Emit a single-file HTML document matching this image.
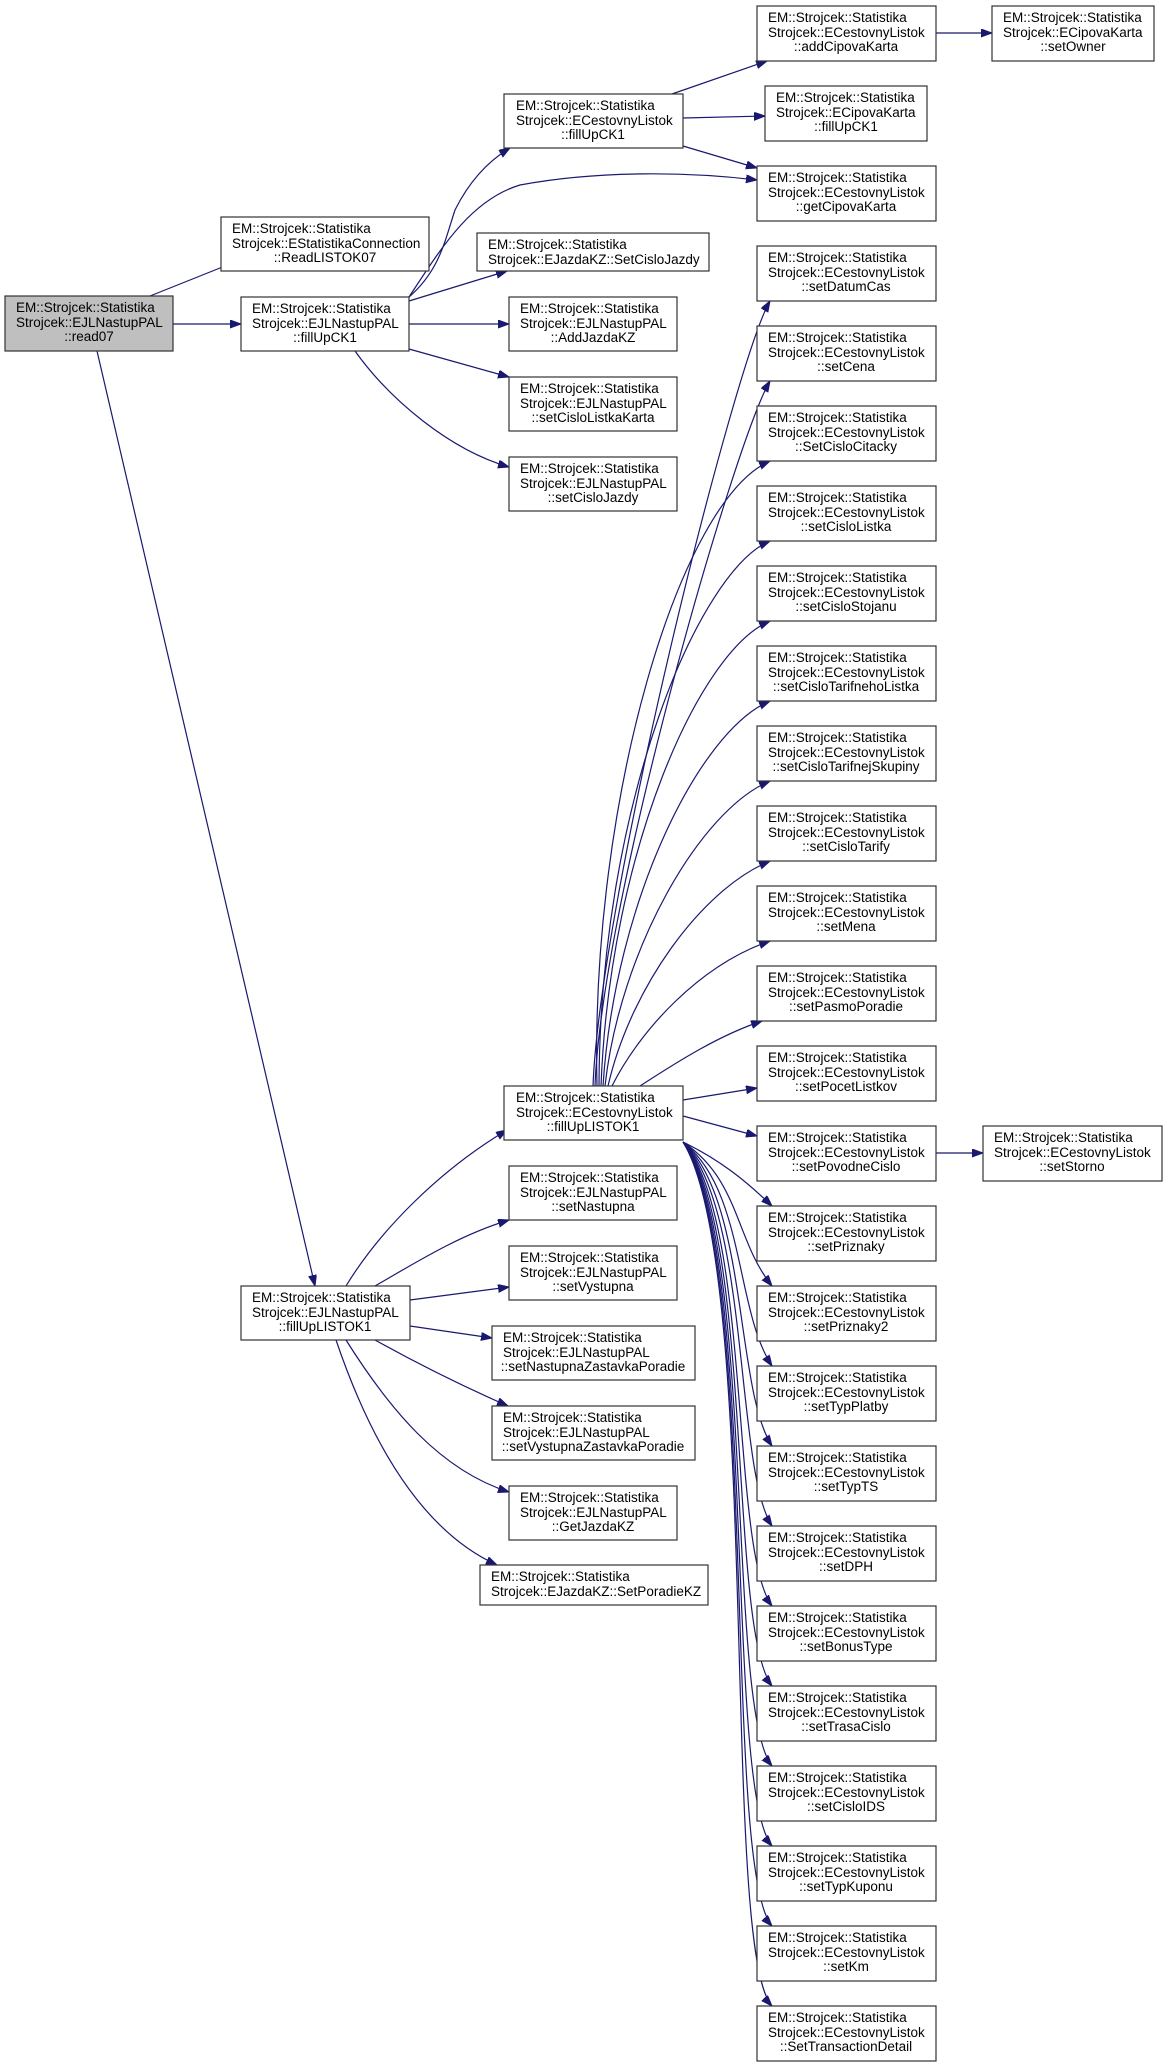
<!DOCTYPE html>
<html><head><meta charset="utf-8"><style>
html,body{margin:0;padding:0;background:#fff;}
svg{display:block;}
text{font-family:"Liberation Sans",sans-serif;font-size:13.5px;fill:#000;}
rect{fill:#fff;stroke:#333;stroke-width:1.2;}
.e{fill:none;stroke:#191970;stroke-width:1.2;}
</style></head><body>
<svg width="1168" height="2067" viewBox="0 0 1168 2067" xmlns="http://www.w3.org/2000/svg">
<defs><marker id="a" markerUnits="userSpaceOnUse" markerWidth="12" markerHeight="10" refX="11" refY="4" orient="auto"><path d="M0,0 L11,4 L0,8 z" fill="#191970" stroke="#191970"/></marker></defs>

<g marker-end="url(#a)">
<path class="e" d="M150,296 L235,262"/>
<path class="e" d="M173,324 L241,324"/>
<path class="e" d="M97,351 L315,1286"/>
<path class="e" d="M409,297 C440,270 445,240 455,210 C470,180 490,160 510,148"/>
<path class="e" d="M409,297 C440,250 470,200 520,185 C600,170 690,172 757,180"/>
<path class="e" d="M409,301 L507,271"/>
<path class="e" d="M409,324 L509,324"/>
<path class="e" d="M409,349 L509,377"/>
<path class="e" d="M355,351 C390,400 450,450 509,467"/>
<path class="e" d="M672,94 L767,61"/>
<path class="e" d="M683,118 L765,116"/>
<path class="e" d="M683,146 L757,168"/>
<path class="e" d="M936,33 L992,33"/>
<path class="e" d="M827,1153 L983,1153"/>
<path class="e" d="M346,1286 C380,1230 440,1170 507,1130"/>
<path class="e" d="M375,1286 C420,1260 460,1235 509,1220"/>
<path class="e" d="M410,1300 L509,1287"/>
<path class="e" d="M410,1326 L492,1338"/>
<path class="e" d="M375,1340 C420,1365 460,1385 508,1406"/>
<path class="e" d="M346,1340 C390,1410 440,1470 509,1492"/>
<path class="e" d="M336,1340 C370,1440 420,1530 497,1565"/>
<path class="e" d="M593,1086 C600,900 735,360 770,301"/>
<path class="e" d="M595,1086 C602,900 735,440 770,381"/>
<path class="e" d="M597,1086 C590,800 680,500 770,461"/>
<path class="e" d="M599,1086 C600,800 700,570 770,541"/>
<path class="e" d="M601,1086 C610,850 700,650 770,621"/>
<path class="e" d="M603,1086 C615,900 700,730 770,701"/>
<path class="e" d="M605,1086 C620,950 700,810 770,781"/>
<path class="e" d="M608,1086 C630,990 700,890 770,861"/>
<path class="e" d="M612,1086 C640,1030 700,965 770,941"/>
<path class="e" d="M640,1086 C680,1060 720,1035 762,1021"/>
<path class="e" d="M683,1100 L757,1088"/>
<path class="e" d="M683,1116 L757,1136"/>
<path class="e" d="M683,1142 C720,1160 745,1180 772,1206"/>
<path class="e" d="M683,1142 C740,1180 735,1240 772,1286"/>
<path class="e" d="M683,1142 C745,1190 735,1310 772,1366"/>
<path class="e" d="M683,1142 C748,1200 735,1390 772,1446"/>
<path class="e" d="M683,1142 C750,1210 735,1470 772,1526"/>
<path class="e" d="M683,1142 C752,1220 730,1550 772,1606"/>
<path class="e" d="M683,1142 C754,1230 728,1630 772,1686"/>
<path class="e" d="M683,1142 C756,1240 726,1710 772,1766"/>
<path class="e" d="M683,1142 C758,1250 724,1790 772,1846"/>
<path class="e" d="M683,1142 C760,1260 722,1870 772,1926"/>
<path class="e" d="M683,1142 C762,1270 720,1950 772,2006"/>
</g>

<!-- left -->
<rect x="5" y="296" width="168" height="55" style="fill:#bfbfbf"/>
<text x="16" y="312">EM::Strojcek::Statistika</text><text x="16" y="327">Strojcek::EJLNastupPAL</text><text x="89" y="341" text-anchor="middle">::read07</text>

<rect x="221" y="217" width="208" height="54"/>
<text x="232" y="233">EM::Strojcek::Statistika</text><text x="232" y="248">Strojcek::EStatistikaConnection</text><text x="325" y="262" text-anchor="middle">::ReadLISTOK07</text>

<rect x="241" y="297" width="168" height="54"/>
<text x="252" y="313">EM::Strojcek::Statistika</text><text x="252" y="328">Strojcek::EJLNastupPAL</text><text x="325" y="342" text-anchor="middle">::fillUpCK1</text>

<rect x="241" y="1286" width="169" height="54"/>
<text x="252" y="1302">EM::Strojcek::Statistika</text><text x="252" y="1317">Strojcek::EJLNastupPAL</text><text x="325" y="1331" text-anchor="middle">::fillUpLISTOK1</text>

<!-- mid -->
<rect x="504" y="94" width="179" height="54"/>
<text x="516" y="110">EM::Strojcek::Statistika</text><text x="516" y="125">Strojcek::ECestovnyListok</text><text x="593" y="139" text-anchor="middle">::fillUpCK1</text>

<rect x="477" y="233" width="232" height="38"/>
<text x="488" y="249">EM::Strojcek::Statistika</text><text x="488" y="264">Strojcek::EJazdaKZ::SetCisloJazdy</text>

<rect x="509" y="297" width="168" height="54"/>
<text x="520" y="313">EM::Strojcek::Statistika</text><text x="520" y="328">Strojcek::EJLNastupPAL</text><text x="593" y="342" text-anchor="middle">::AddJazdaKZ</text>

<rect x="509" y="377" width="168" height="54"/>
<text x="520" y="393">EM::Strojcek::Statistika</text><text x="520" y="408">Strojcek::EJLNastupPAL</text><text x="593" y="422" text-anchor="middle">::setCisloListkaKarta</text>

<rect x="509" y="457" width="168" height="54"/>
<text x="520" y="473">EM::Strojcek::Statistika</text><text x="520" y="488">Strojcek::EJLNastupPAL</text><text x="593" y="502" text-anchor="middle">::setCisloJazdy</text>

<rect x="504" y="1086" width="179" height="54"/>
<text x="516" y="1102">EM::Strojcek::Statistika</text><text x="516" y="1117">Strojcek::ECestovnyListok</text><text x="593" y="1131" text-anchor="middle">::fillUpLISTOK1</text>

<rect x="509" y="1166" width="168" height="54"/>
<text x="520" y="1182">EM::Strojcek::Statistika</text><text x="520" y="1197">Strojcek::EJLNastupPAL</text><text x="593" y="1211" text-anchor="middle">::setNastupna</text>

<rect x="509" y="1246" width="168" height="54"/>
<text x="520" y="1262">EM::Strojcek::Statistika</text><text x="520" y="1277">Strojcek::EJLNastupPAL</text><text x="593" y="1291" text-anchor="middle">::setVystupna</text>

<rect x="492" y="1326" width="203" height="54"/>
<text x="503" y="1342">EM::Strojcek::Statistika</text><text x="503" y="1357">Strojcek::EJLNastupPAL</text><text x="593" y="1371" text-anchor="middle">::setNastupnaZastavkaPoradie</text>

<rect x="492" y="1406" width="203" height="54"/>
<text x="503" y="1422">EM::Strojcek::Statistika</text><text x="503" y="1437">Strojcek::EJLNastupPAL</text><text x="593" y="1451" text-anchor="middle">::setVystupnaZastavkaPoradie</text>

<rect x="509" y="1486" width="168" height="54"/>
<text x="520" y="1502">EM::Strojcek::Statistika</text><text x="520" y="1517">Strojcek::EJLNastupPAL</text><text x="593" y="1531" text-anchor="middle">::GetJazdaKZ</text>

<rect x="480" y="1565" width="228" height="40"/>
<text x="491" y="1581">EM::Strojcek::Statistika</text><text x="491" y="1596">Strojcek::EJazdaKZ::SetPoradieKZ</text>

<!-- right column -->
<rect x="757" y="6" width="179" height="55"/>
<text x="768" y="22">EM::Strojcek::Statistika</text><text x="768" y="37">Strojcek::ECestovnyListok</text><text x="846" y="51" text-anchor="middle">::addCipovaKarta</text>

<rect x="765" y="86" width="162" height="55"/>
<text x="776" y="102">EM::Strojcek::Statistika</text><text x="776" y="117">Strojcek::ECipovaKarta</text><text x="846" y="131" text-anchor="middle">::fillUpCK1</text>

<rect x="757" y="166" width="179" height="55"/>
<text x="768" y="182">EM::Strojcek::Statistika</text><text x="768" y="197">Strojcek::ECestovnyListok</text><text x="846" y="211" text-anchor="middle">::getCipovaKarta</text>

<rect x="992" y="6" width="162" height="55"/>
<text x="1003" y="22">EM::Strojcek::Statistika</text><text x="1003" y="37">Strojcek::ECipovaKarta</text><text x="1073" y="51" text-anchor="middle">::setOwner</text>

<rect x="983" y="1126" width="179" height="55"/>
<text x="994" y="1142">EM::Strojcek::Statistika</text><text x="994" y="1157">Strojcek::ECestovnyListok</text><text x="1072" y="1171" text-anchor="middle">::setStorno</text>

<g>
<rect x="757" y="246" width="179" height="55"/><text x="768" y="262">EM::Strojcek::Statistika</text><text x="768" y="277">Strojcek::ECestovnyListok</text><text x="846" y="291" text-anchor="middle">::setDatumCas</text>
<rect x="757" y="326" width="179" height="55"/><text x="768" y="342">EM::Strojcek::Statistika</text><text x="768" y="357">Strojcek::ECestovnyListok</text><text x="846" y="371" text-anchor="middle">::setCena</text>
<rect x="757" y="406" width="179" height="55"/><text x="768" y="422">EM::Strojcek::Statistika</text><text x="768" y="437">Strojcek::ECestovnyListok</text><text x="846" y="451" text-anchor="middle">::SetCisloCitacky</text>
<rect x="757" y="486" width="179" height="55"/><text x="768" y="502">EM::Strojcek::Statistika</text><text x="768" y="517">Strojcek::ECestovnyListok</text><text x="846" y="531" text-anchor="middle">::setCisloListka</text>
<rect x="757" y="566" width="179" height="55"/><text x="768" y="582">EM::Strojcek::Statistika</text><text x="768" y="597">Strojcek::ECestovnyListok</text><text x="846" y="611" text-anchor="middle">::setCisloStojanu</text>
<rect x="757" y="646" width="179" height="55"/><text x="768" y="662">EM::Strojcek::Statistika</text><text x="768" y="677">Strojcek::ECestovnyListok</text><text x="846" y="691" text-anchor="middle">::setCisloTarifnehoListka</text>
<rect x="757" y="726" width="179" height="55"/><text x="768" y="742">EM::Strojcek::Statistika</text><text x="768" y="757">Strojcek::ECestovnyListok</text><text x="846" y="771" text-anchor="middle">::setCisloTarifnejSkupiny</text>
<rect x="757" y="806" width="179" height="55"/><text x="768" y="822">EM::Strojcek::Statistika</text><text x="768" y="837">Strojcek::ECestovnyListok</text><text x="846" y="851" text-anchor="middle">::setCisloTarify</text>
<rect x="757" y="886" width="179" height="55"/><text x="768" y="902">EM::Strojcek::Statistika</text><text x="768" y="917">Strojcek::ECestovnyListok</text><text x="846" y="931" text-anchor="middle">::setMena</text>
<rect x="757" y="966" width="179" height="55"/><text x="768" y="982">EM::Strojcek::Statistika</text><text x="768" y="997">Strojcek::ECestovnyListok</text><text x="846" y="1011" text-anchor="middle">::setPasmoPoradie</text>
<rect x="757" y="1046" width="179" height="55"/><text x="768" y="1062">EM::Strojcek::Statistika</text><text x="768" y="1077">Strojcek::ECestovnyListok</text><text x="846" y="1091" text-anchor="middle">::setPocetListkov</text>
<rect x="757" y="1126" width="179" height="55"/><text x="768" y="1142">EM::Strojcek::Statistika</text><text x="768" y="1157">Strojcek::ECestovnyListok</text><text x="846" y="1171" text-anchor="middle">::setPovodneCislo</text>
<rect x="757" y="1206" width="179" height="55"/><text x="768" y="1222">EM::Strojcek::Statistika</text><text x="768" y="1237">Strojcek::ECestovnyListok</text><text x="846" y="1251" text-anchor="middle">::setPriznaky</text>
<rect x="757" y="1286" width="179" height="55"/><text x="768" y="1302">EM::Strojcek::Statistika</text><text x="768" y="1317">Strojcek::ECestovnyListok</text><text x="846" y="1331" text-anchor="middle">::setPriznaky2</text>
<rect x="757" y="1366" width="179" height="55"/><text x="768" y="1382">EM::Strojcek::Statistika</text><text x="768" y="1397">Strojcek::ECestovnyListok</text><text x="846" y="1411" text-anchor="middle">::setTypPlatby</text>
<rect x="757" y="1446" width="179" height="55"/><text x="768" y="1462">EM::Strojcek::Statistika</text><text x="768" y="1477">Strojcek::ECestovnyListok</text><text x="846" y="1491" text-anchor="middle">::setTypTS</text>
<rect x="757" y="1526" width="179" height="55"/><text x="768" y="1542">EM::Strojcek::Statistika</text><text x="768" y="1557">Strojcek::ECestovnyListok</text><text x="846" y="1571" text-anchor="middle">::setDPH</text>
<rect x="757" y="1606" width="179" height="55"/><text x="768" y="1622">EM::Strojcek::Statistika</text><text x="768" y="1637">Strojcek::ECestovnyListok</text><text x="846" y="1651" text-anchor="middle">::setBonusType</text>
<rect x="757" y="1686" width="179" height="55"/><text x="768" y="1702">EM::Strojcek::Statistika</text><text x="768" y="1717">Strojcek::ECestovnyListok</text><text x="846" y="1731" text-anchor="middle">::setTrasaCislo</text>
<rect x="757" y="1766" width="179" height="55"/><text x="768" y="1782">EM::Strojcek::Statistika</text><text x="768" y="1797">Strojcek::ECestovnyListok</text><text x="846" y="1811" text-anchor="middle">::setCisloIDS</text>
<rect x="757" y="1846" width="179" height="55"/><text x="768" y="1862">EM::Strojcek::Statistika</text><text x="768" y="1877">Strojcek::ECestovnyListok</text><text x="846" y="1891" text-anchor="middle">::setTypKuponu</text>
<rect x="757" y="1926" width="179" height="55"/><text x="768" y="1942">EM::Strojcek::Statistika</text><text x="768" y="1957">Strojcek::ECestovnyListok</text><text x="846" y="1971" text-anchor="middle">::setKm</text>
<rect x="757" y="2006" width="179" height="55"/><text x="768" y="2022">EM::Strojcek::Statistika</text><text x="768" y="2037">Strojcek::ECestovnyListok</text><text x="846" y="2051" text-anchor="middle">::SetTransactionDetail</text>
</g>
</svg>
</body></html>
